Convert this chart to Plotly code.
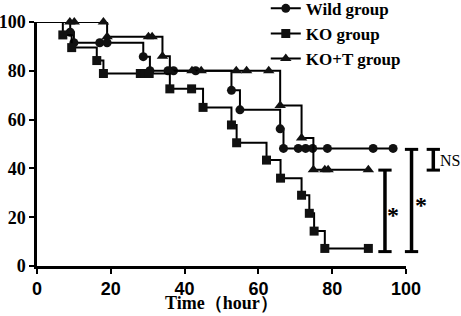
import plotly.graph_objects as go

# ---- data ----
wild_t = [0, 9, 10, 17, 19, 28.8, 30.6, 35.5, 37, 43, 52.7, 55, 65.9, 66.8, 70.8, 72.8, 74.7, 78.7, 91.1, 96.5]
wild_s = [100, 95.8, 91.5, 91.5, 91.5, 85.8, 80, 80, 80, 80, 72, 64, 56.2, 48.2, 48.2, 48.2, 48.2, 48.2, 48.2, 48.2]

ko_t = [0, 7, 9.4, 16.2, 18, 28, 29.2, 30.4, 36, 41.9, 45, 52.7, 54.1, 62.2, 66, 71.7, 73.8, 75.1, 78, 89.8]
ko_s = [100, 94.7, 89.5, 84.2, 78.9, 78.9, 78.9, 78.9, 72.6, 72.6, 65, 57.8, 50.5, 43.4, 36, 29, 21.6, 14.3, 7.2, 7.2]

kot_t = [0, 8.9, 10.1, 18, 19, 30.2, 31.2, 34, 36, 42, 44.5, 54, 56.8, 62.8, 65.9, 71.7, 74.9, 78, 78.9, 89.8]
kot_s = [100, 100, 100, 100, 94, 94, 94, 86, 80, 80, 80, 80, 80, 80, 65.8, 52.5, 39.4, 39.4, 39.4, 39.4]

group_names = ["Wild group", "KO group", "KO+T group"]
group_symbols = ["circle", "square", "triangle-up"]

x_ticks = [0, 20, 40, 60, 80, 100]
y_ticks = [0, 20, 40, 60, 80, 100]
x_title = "Time（hour）"

# significance brackets (x position, low, high in data units) and labels
br_x = [94.3, 101.5, 107.4]
br_lo = [5.9, 5.9, 39.3]
br_hi = [39.3, 47.8, 47.8]
br_label = ["*", "*", "NS"]
br_label_x = [96.6, 104.0, 108.7]
br_label_y = [21.0, 25.2, 43.4]

XR = [0, 100]
YR = [0, 100]

fig = go.Figure()
series = [(wild_t, wild_s), (ko_t, ko_s), (kot_t, kot_s)]
msize = {"circle": 9, "square": 9, "triangle-up": 10}
for (t, s), name, sym in zip(series, group_names, group_symbols):
    fig.add_trace(go.Scatter(x=t, y=s, mode="lines", line=dict(color="black", width=2, shape="hv"),
                             showlegend=False, cliponaxis=False, hoverinfo="skip"))
    fig.add_trace(go.Scatter(x=t[1:], y=s[1:], mode="markers",
                             marker=dict(symbol=sym, size=msize[sym], color="#111111"),
                             showlegend=False, cliponaxis=False))
for name, sym in zip(group_names, group_symbols):
    fig.add_trace(go.Scatter(x=[None], y=[None], mode="lines+markers", name=name,
                             line=dict(color="black", width=2),
                             marker=dict(symbol=sym, size=msize[sym], color="#111111")))

def px_(v):
    return (v - XR[0]) / (XR[1] - XR[0])

def py_(v):
    return (v - YR[0]) / (YR[1] - YR[0])

cap = 0.018
for bx, lo, hi in zip(br_x, br_lo, br_hi):
    xp = px_(bx)
    for a, b, c, d, w in [(xp, py_(lo), xp, py_(hi), 3.5), (xp - cap, py_(lo), xp + cap, py_(lo), 3),
                          (xp - cap, py_(hi), xp + cap, py_(hi), 3)]:
        fig.add_shape(type="line", xref="paper", yref="paper", x0=a, y0=b, x1=c, y1=d,
                      line=dict(color="black", width=w))

for lab, lx, ly in zip(br_label, br_label_x, br_label_y):
    if lab == "*":
        font = dict(family="Liberation Serif", size=24, color="black", weight="bold")
        xanchor = "center"
    else:
        font = dict(family="Liberation Serif", size=16, color="black")
        xanchor = "left"
    fig.add_annotation(xref="paper", yref="paper", x=px_(lx), y=py_(ly), text=lab, showarrow=False,
                       font=font, xanchor=xanchor, yanchor="middle")

# x-axis title placed as an annotation below the tick labels
fig.add_annotation(xref="paper", yref="paper", x=0.5, y=-0.202, text=x_title, showarrow=False,
                   xanchor="center", yanchor="bottom",
                   font=dict(family="Liberation Serif", size=18, color="black", weight="bold"))

axis_common = dict(showline=True, linewidth=2.5, linecolor="black", ticks="outside", ticklen=5,
                   tickwidth=2, tickcolor="black", showgrid=False, zeroline=False, mirror=False,
                   automargin=False)

fig.update_layout(
    width=461, height=316, autosize=False,
    margin=dict(l=37, r=55, t=22, b=50, autoexpand=False),
    plot_bgcolor="white", paper_bgcolor="white",
    xaxis=dict(range=XR, tickvals=x_ticks, ticktext=[str(v) for v in x_ticks],
               tickfont=dict(family="Liberation Sans", size=18, color="black", weight="bold"),
               **axis_common),
    yaxis=dict(range=YR, tickvals=y_ticks, ticktext=[str(v) for v in y_ticks],
               tickfont=dict(family="Liberation Serif", size=18, color="black", weight="bold"),
               ticklabelstandoff=0,
               **axis_common),
    legend=dict(x=0.62, y=1.128, xanchor="left", yanchor="top", bgcolor="rgba(0,0,0,0)",
                font=dict(family="Liberation Serif", size=17, color="black", weight="bold"),
                tracegroupgap=0, itemwidth=30),
    showlegend=True,
)

fig.write_html("out.html", config={"displayModeBar": False},
               post_script="document.body.style.margin='0';document.body.style.overflow='hidden';")
